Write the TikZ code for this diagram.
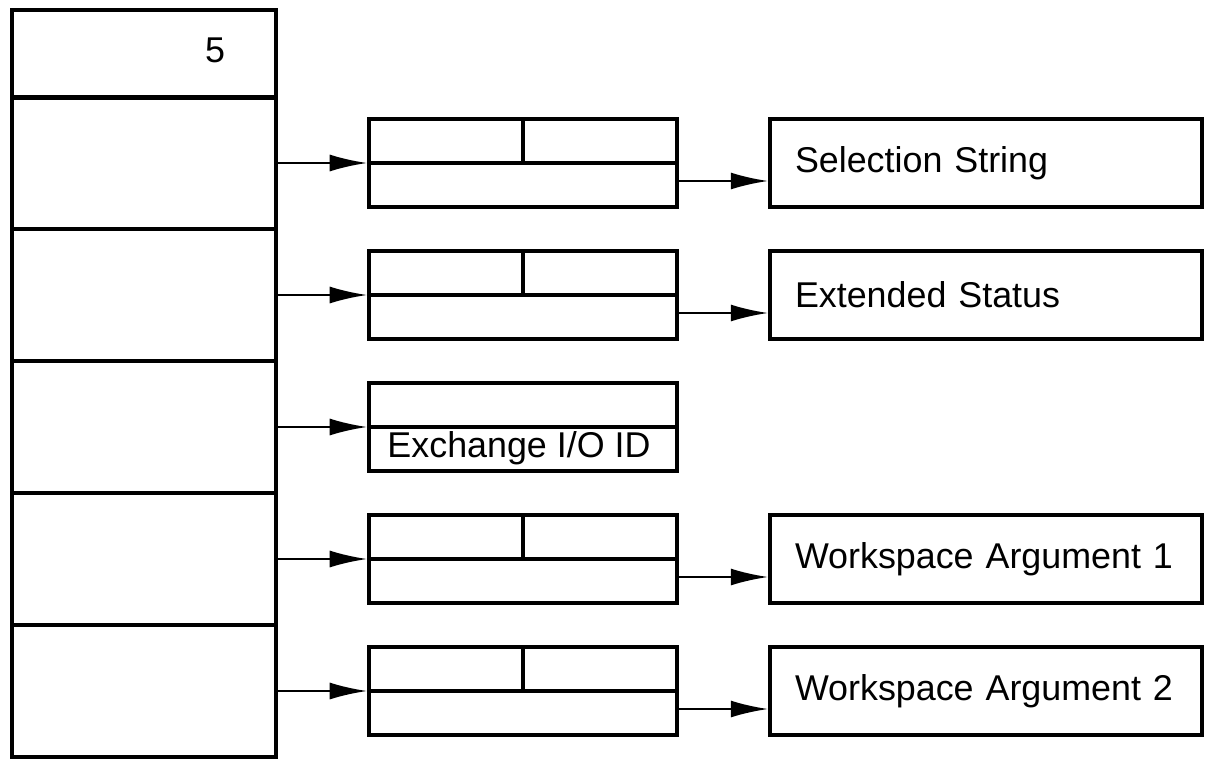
\documentclass[tikz,border=0pt]{standalone}
\usepackage{fontspec}
\setmainfont{Liberation Sans}
\usetikzlibrary{arrows.meta,positioning}
\tikzset{
  cell/.style={draw, line width=2pt, minimum width=5.28cm, minimum height=2.64cm, inner sep=0pt},
  pair/.style={draw, line width=2pt, minimum width=6.16cm, minimum height=1.76cm, inner sep=0pt},
  target/.style={draw, line width=2pt, minimum height=1.76cm, text width=7.64cm, align=left, inner xsep=0.5cm, inner ysep=0pt},
  ptr/.style={-{Latex[length=0.75cm,width=0.34cm]}, line width=1.4pt}
}
\newcommand{\lowtext}[2]{\raisebox{#1}{#2}}
\begin{document}
\begin{tikzpicture}[font=\fontsize{20.4}{24}\selectfont]
\useasboundingbox (0,0) rectangle (24.26,15.46);
% left array
\node[cell, minimum height=1.76cm] (head) at (2.88,14.38) {};
\node (count) at (4.3,14.46) {5};
\node[cell] (c1) at (2.88,12.2) {};
\node[cell] (c2) at (2.88,9.56) {};
\node[cell] (c3) at (2.88,6.92) {};
\node[cell] (c4) at (2.88,4.28) {};
\node[cell] (c5) at (2.88,1.64) {};
% middle records
\node[pair] (b1) at (10.46,12.2) {};
\node[pair] (b2) at (10.46,9.56) {};
\node[pair] (b3) at (10.46,6.92) {};
\node[pair] (b4) at (10.46,4.28) {};
\node[pair] (b5) at (10.46,1.64) {};
\foreach \b in {b1,b2,b3,b4,b5}
  \draw[line width=2pt] (\b.west) -- (\b.east);
\foreach \b in {b1,b2,b4,b5}
  \draw[line width=2pt] (\b.center) -- (\b.north);
\node (xid) at ([xshift=-0.08cm,yshift=-0.42cm]b3.center) {Exchange I/O ID};
% targets
\node[target] (r1) at (19.72,12.2) {\lowtext{-0.14cm}{Selection String}};
\node[target] (r2) at (19.72,9.56) {\lowtext{-0.06cm}{Extended Status}};
\node[target] (r4) at (19.72,4.28) {\lowtext{-0.06cm}{Workspace Argument 1}};
\node[target] (r5) at (19.72,1.64) {\lowtext{0cm}{Workspace Argument 2}};
% pointers
\foreach \i in {1,...,5}
  \draw[ptr] (c\i.east) -- (b\i.west);
\foreach \i in {1,2,4,5}
  \draw[ptr] ([yshift=-0.36cm]b\i.east) -- ([yshift=-0.36cm]b\i.east -| r\i.west);
\end{tikzpicture}
\end{document}
